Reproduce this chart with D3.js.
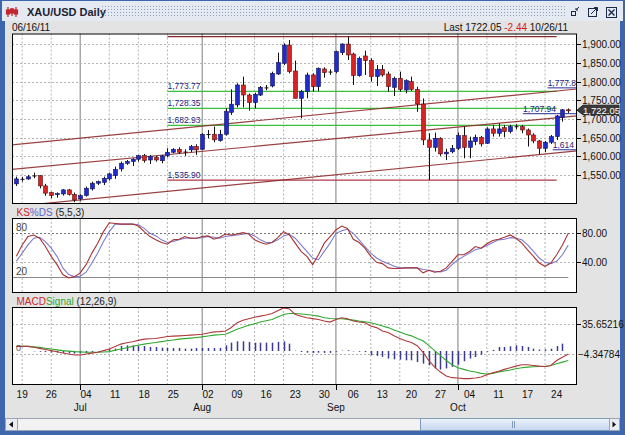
<!DOCTYPE html>
<html>
<head>
<meta charset="utf-8">
<script src="https://cdn.jsdelivr.net/npm/d3@7"></script>
<style>
  body { margin: 0; background: #fff; }
  text { font-family: "Liberation Sans", Arial, sans-serif; }
</style>
</head>
<body>
<svg id="chart" width="625" height="435"></svg>
<script>
// ---- data ----
var opens  = [1526,1539,1539,1548,1548,1520.5,1502.7,1497,1499,1509.8,1498,1485.7,1494.6,1512.5,1527.7,1530,1539.3,1548,1566,1581,
              1585.7,1592,1601.8,1590,1597.4,1588,1601.8,1610.7,1618.7,1612,1617,1626,1618.7,1659,1659,1642,1659,1717.8,1737.5,1791,
              1764,1743.7,1764,1784,1788.3,1820.5,1849,1898,1828.5,1755.3,1773.2,1817.8,1786.5,1833.9,1826.7,1826.7,1877.6,1900.8,1874,1816,
              1868.7,1856.2,1813.3,1833,1820.5,1784.8,1808.9,1777.6,1799.9,1779.4,1740,1643.7,1624,1648.2,1606.2,1612,1621.4,1655.3,1624,1639,
              1650.9,1634.8,1673.2,1661.6,1676.7,1666,1680,1679.4,1670.5,1657,1641,1621.4,1637.5,1652.6,1704.4,1724.49];
var highs  = [1545.5,1545,1550,1556,1548.5,1526,1505,1503,1512,1512,1502.7,1498,1518.7,1532,1534.8,1545.5,1556.2,1572.3,1585.7,1590,
              1594.6,1603.5,1606.2,1603.5,1601,1603.5,1621.4,1621.4,1624,1618.7,1630.3,1632,1661.6,1670.5,1679.4,1670.5,1728.5,1779.4,1795.5,1813.3,
              1768,1770.5,1788.3,1791,1826.7,1877.6,1902.6,1911.5,1856.2,1777.6,1824,1822.3,1838.3,1838.3,1833,1883,1902.6,1920.8,1877.6,1867,
              1883,1862.4,1844.6,1844.6,1826.7,1813.3,1826.7,1806.2,1813.3,1786.5,1755,1661.6,1663.4,1650.9,1620,1630.3,1663.4,1679.4,1652.6,1658,
              1654.4,1677.6,1684,1688.4,1684,1684,1686,1684,1674.5,1661.6,1643.7,1641,1657,1710.7,1726.7,1728];
var lows   = [1520.5,1532,1537,1541,1514,1494,1487.5,1489,1494.6,1494.6,1477,1481,1492,1508,1523,1523,1534.8,1539.3,1559,1577,
              1574,1585.7,1583,1579.4,1585.7,1581.2,1597.4,1608,1606.2,1601,1610.7,1603.5,1617,1648.2,1637.5,1639,1655.3,1710.7,1731.2,1731,
              1722.3,1728.5,1761.5,1777,1784.8,1817.8,1844.6,1822.3,1755.3,1701.7,1755.3,1773.2,1775,1810.6,1818,1822.3,1871.4,1858,1791,1813.3,
              1817.8,1800,1788.3,1813.3,1773.2,1761.5,1773.2,1768.7,1775,1719,1630,1535.9,1612.5,1600.9,1590,1608,1617,1594.6,1594.6,1630,
              1626,1633,1652.6,1652.6,1650.9,1661.6,1672,1661.6,1626,1634.8,1605,1610.7,1633,1643.7,1692.8,1716];
var closes = [1539.3,1539.5,1545,1548.5,1520.5,1501,1494.6,1500,1509.8,1498,1483,1494.6,1514.3,1527.7,1532,1541,1552.7,1565,1581.2,1585.7,
              1592,1601.8,1588.4,1599,1590,1600.9,1610.7,1618.7,1610.7,1612.5,1625.9,1617,1658.9,1659.5,1644,1659,1719.6,1739.5,1791,1764.2,
              1743.7,1766,1784.8,1784.5,1822.3,1850.8,1898.1,1826.7,1755.3,1773.2,1817.8,1786.5,1835.6,1824,1827,1880.3,1900.8,1871.4,1816,1862.4,
              1856.2,1813.3,1833,1817.8,1786.5,1808.9,1779.4,1802.6,1779.4,1740,1643.7,1624,1648.2,1606.2,1611,1621.4,1655.3,1624,1641,1650.9,
              1633,1673.2,1661.6,1673.2,1666,1679.4,1680.5,1670.5,1657,1641,1621.4,1637.5,1652.6,1708,1724.49,1722.05];

var stochK = [48.2,64,75.5,77.7,73.2,61.8,48.2,36.8,23.2,18.6,20,25.5,36.8,52.7,66.4,82.3,94.5,93.6,92.7,92.7,
              92.7,90,82.3,75.5,71,67.3,65,71,71.8,75.5,73.2,73.2,75.5,76.4,71.8,74.5,79,77.7,79,80.9,
              79,71,67.3,65,67.3,74,82.3,77.7,66.4,55,48.2,36.8,50.4,66.4,75.5,84.6,90,86.8,71.8,67.3,
              59.5,48.2,40,38.2,32.3,31.4,31.4,32.3,32.3,32.3,25.5,29.1,26.4,27.7,32.3,41.4,50.4,50.4,55,61.8,
              59.5,65.5,70,71.8,74.5,77.7,73.2,66.4,57.3,48.2,39.1,34.5,39.1,50.4,64,80];
var stochD = [41.4,52.7,64,73.2,74.5,68.6,59.5,48.2,32.3,23.2,20,20.9,26.4,39.1,52.7,68.6,82.3,92.7,92.7,92.7,
              92.7,91.8,86.8,80,76.4,71,67.3,68.6,71,73.2,73.6,73.2,74,75.5,74.5,73.2,75.5,76.8,77.7,78.6,
              80,76.4,71,67.3,67.3,71,76.4,78.6,73.2,64,55,45.9,43.6,55,66.4,80,83.6,85.5,80,71,
              61.8,52.7,45.9,41.4,38.2,34.5,32.3,32.3,32.3,32.3,30,29.1,27.7,26.8,29.1,36.8,43.6,48.2,52.7,57.3,
              59.5,63.2,67.3,71,71.8,74,73.2,71,64,55,45.9,40,38.2,41.4,50.4,64];

var macdLine   = [6.1,6.1,6.1,5,3.5,2,0.5,-1,-2.6,-4,-5.2,-5.2,-3.9,-2.8,-1.7,0.5,2.6,6,9.1,10.8,
                  12.2,14,15.7,16.1,16.5,17.8,19.1,19.6,20,20.4,20.9,21.5,22.2,23.8,25.2,25.6,26.5,31,37.4,40.5,
                  42.6,44.5,46.1,47.5,49.5,53,56.9,55.6,48.2,46,43.9,42.8,41.7,39.5,38.2,41.7,43.9,42.6,39.5,38.2,
                  37.4,33,30.9,26.5,24.3,20,16.5,13.5,11.3,7,-1.7,-12.6,-21.3,-27.8,-33,-35.2,-35.6,-36.5,-36.5,-35.6,
                  -34.3,-31.3,-28.6,-26.9,-24.3,-22.1,-20,-18.2,-18.2,-19.1,-20,-20.4,-19.1,-12.6,-8.2,-3.9];
var signalLine = [6.1,6.1,6.1,5.5,4.8,3.7,2.6,1.5,0.5,-0.2,-0.8,-1.2,-1.7,-1.7,-1.7,-1.3,-0.8,1,2.6,4.4,
                  6.1,7.6,9.1,10.2,11.3,12.4,13.5,14.6,15.7,16.3,17,17.8,18.7,19.8,20.9,21.5,22.2,25.5,28.7,31.3,
                  33.9,36,38.2,40,41.7,45,48.2,49.5,49.5,48.8,48.2,47.2,46.1,43.9,43,42.6,42.6,41.7,40.8,39.5,
                  38.7,37.4,35.2,33,30.9,27.8,25.2,22.2,20,16.5,13.5,7,0.5,-6.1,-12.6,-18.2,-22.1,-24.3,-26.5,-27.8,
                  -29.5,-30.4,-29.5,-27.8,-26.5,-25.2,-23.4,-22.1,-21.3,-20.8,-20.4,-20.4,-19.1,-16.9,-14.7,-12.6];
var macdHist   = [0,0,0,-0.5,-1,-1.5,-2,-2,-2.5,-3,-3.5,-3,-2.5,-1.5,-0.5,1,2.5,3.1,6.6,7.5,
                  7.5,6.6,6.6,5.3,5.3,4.4,4,4,4,3.1,3.1,4,4,4,4,4,7.5,11,12.8,12.8,
                  12,11,11,11,11,12,12.8,9.7,0.5,-1.3,-2.2,-2.5,-2.2,-2.5,-2.5,-1,0.5,1,-0.5,-1,
                  -1.5,-5.6,-6.5,-7.8,-10,-11,-11.4,-12.3,-12.3,-14.5,-16.7,-19,-23,-24.5,-23,-21,-18,-13.5,-10,-8,
                  -5,-1,1.5,5.3,5.3,6.2,7.5,6.6,5.3,3.1,1.8,2.2,3.1,6.6,9.7,0];

var weekLabels = ["19","26","04","11","18","25","02","09","16","23","30","06","13","20","27","04","11","17","24"];
var weekBars   = [1,6,12,17,22,27,33,38,43,48,53,58,63,68,73,78,83,88,93];
var monthLabels = ["Jul","Aug","Sep","Oct"];
var monthBars   = [11,32,55,76];

var priceTicks = [1550,1600,1650,1700,1750,1800,1850,1900];
var stochTicks = [80,40];
var macdTicks  = [35.65216,-4.34784];

var fibLevels = [1773.77,1728.35,1682.93];
var fibHigh = 1920.80, fibLow = 1535.90;
var fibBars = [26,93];

// trend channel: price at bar 0 and at bar 95, and its label
var channelStart = [1631.4,1566,1466];
var channelEnd   = [1777.9,1706,1612];
var channelLabels = ["1,777.8","1,707.94","1,614"];

var lastPrice = 1722.05, lastChange = -2.44;
var firstDate = "06/16/11", lastDate = "10/26/11";

// ---- layout ----
var svg = d3.select("#chart");
var left = 12, right = 577;
var mainTop = 33.5, mainBottom = 204;
var stochTop = 218, stochBottom = 293;
var macdTop = 307, macdBottom = 385;

var x = d3.scaleLinear().domain([-0.75, 96.5]).range([left, right]);
var yPrice = d3.scaleLinear().domain([1472, 1929]).range([mainBottom, mainTop]);
var yStoch = d3.scaleLinear().domain([-2.3, 101.1]).range([stochBottom, stochTop]);
var yMacd = d3.scaleLinear().domain([-44.9, 58.1]).range([macdBottom, macdTop]);

var fmtPrice = d3.format(",.2f");
var bars = d3.range(opens.length);

// ---- window chrome ----
svg.append("rect").attr("width", 625).attr("height", 435).attr("fill", "#3d66ad");
svg.append("rect").attr("x", 2).attr("y", 1).attr("width", 621).attr("height", 20).attr("fill", "#e4e9f2");

var defs = svg.append("defs");
var pat = defs.append("pattern").attr("id", "dots").attr("width", 3).attr("height", 3)
    .attr("patternUnits", "userSpaceOnUse");
pat.append("rect").attr("width", 1).attr("height", 1).attr("fill", "#8fa0bd");
svg.append("rect").attr("x", 100).attr("y", 5).attr("width", 466).attr("height", 12).attr("fill", "url(#dots)");

var grad = defs.append("linearGradient").attr("id", "thumb").attr("x1", 0).attr("y1", 0).attr("x2", 0).attr("y2", 1);
grad.append("stop").attr("offset", "0%").attr("stop-color", "#eef4fc");
grad.append("stop").attr("offset", "100%").attr("stop-color", "#c3d5ee");

// title icon: tiny candles
var icon = svg.append("g").attr("stroke", "#c0282d").attr("stroke-width", 1.2);
[8, 12, 16].forEach(function(ix, k) {
  icon.append("line").attr("x1", ix).attr("x2", ix).attr("y1", 7 + k % 2).attr("y2", 17 - k % 2);
  icon.append("rect").attr("x", ix - 1.5).attr("y", 10 - k % 2).attr("width", 3).attr("height", 4).attr("fill", "#c0282d");
});
svg.append("text").attr("x", 27).attr("y", 15.5).style("font-size", "11px").style("font-weight", "bold")
    .attr("fill", "#1b1f33").text("XAU/USD Daily");

// title buttons
var btn = svg.append("g").attr("fill", "none").attr("stroke", "#1b2a4a").attr("stroke-width", 1);
btn.append("rect").attr("x", 571.5).attr("y", 11.5).attr("width", 4).attr("height", 4);
btn.append("path").attr("d", "M576,10 L579,7 M576,8 L576,10 L578,10");
btn.append("rect").attr("x", 588.5).attr("y", 8.5).attr("width", 8).attr("height", 8);
btn.append("path").attr("d", "M591,14 L597,8 M594,7.5 L597.5,7.5 L597.5,11");
btn.append("rect").attr("x", 606.5).attr("y", 7.5).attr("width", 10).attr("height", 10);
btn.append("path").attr("d", "M608.5,9.5 L614.5,15.5 M614.5,9.5 L608.5,15.5").attr("stroke-width", 1.4);

// body
svg.append("rect").attr("x", 5).attr("y", 21).attr("width", 615).attr("height", 410).attr("fill", "#e3e3e3");

// header texts
svg.append("text").attr("x", 12).attr("y", 31).style("font-size", "10px").attr("fill", "#111").text(firstDate);
var hdr = svg.append("text").attr("x", 568).attr("y", 31).attr("text-anchor", "end")
    .style("font-size", "10px").attr("fill", "#111");
hdr.append("tspan").text("Last " + lastPrice.toFixed(2) + " ");
hdr.append("tspan").attr("fill", "#d41c1c").text(lastChange.toFixed(2));
hdr.append("tspan").text(" " + lastDate);

// ---- panel helper ----
function drawPanel(top, bottom) {
  var g = svg.append("g");
  g.append("rect").attr("x", left).attr("y", top).attr("width", right - left).attr("height", bottom - top)
      .attr("fill", "#fff");
  var grid = d3.range(1, opens.length, 5).filter(function(b) {
    return !monthBars.some(function(m) { return Math.abs(m - b) <= 2; });
  });
  g.selectAll(".vgrid").data(grid).enter().append("line")
      .attr("x1", function(d) { return x(d); }).attr("x2", function(d) { return x(d); })
      .attr("y1", top).attr("y2", bottom)
      .attr("stroke", "#b4b4b4").attr("stroke-dasharray", "2,2");
  g.selectAll(".mgrid").data(monthBars).enter().append("line")
      .attr("x1", function(d) { return x(d); }).attr("x2", function(d) { return x(d); })
      .attr("y1", top).attr("y2", bottom)
      .attr("stroke", "#a8a8a8").attr("stroke-width", 1.5);
  return g;
}

function drawBorder(top, bottom) {
  svg.append("rect").attr("x", left + 0.5).attr("y", top + 0.5).attr("width", right - left - 1)
      .attr("height", bottom - top - 1).attr("fill", "none").attr("stroke", "#000");
}

function rightLabels(ticks, scale, fmt) {
  var g = svg.append("g");
  ticks.forEach(function(t) {
    var yy = Math.round(scale(t)) + 0.5;
    if (t >= 0) {
      g.append("line").attr("x1", right).attr("x2", right + 4).attr("y1", yy).attr("y2", yy).attr("stroke", "#000");
    }
    g.append("text").attr("x", t >= 0 ? right + 5 : right + 1).attr("y", yy + 3.5)
        .style("font-size", "10px").attr("fill", "#111").text(fmt(t));
  });
}

// ---- main price panel ----
var main = drawPanel(mainTop, mainBottom);
main.selectAll(".hgrid").data(priceTicks).enter().append("line")
    .attr("x1", left).attr("x2", right)
    .attr("y1", function(d) { return Math.round(yPrice(d)) + 0.5; })
    .attr("y2", function(d) { return Math.round(yPrice(d)) + 0.5; })
    .attr("stroke", "#b4b4b4").attr("stroke-dasharray", "2,2");

var clip = defs.append("clipPath").attr("id", "mainClip");
clip.append("rect").attr("x", left).attr("y", mainTop).attr("width", right - left).attr("height", mainBottom - mainTop);

var studies = svg.append("g").attr("clip-path", "url(#mainClip)");

// fibonacci levels
studies.append("line").attr("x1", x(fibBars[0])).attr("x2", x(fibBars[1]))
    .attr("y1", yPrice(fibHigh)).attr("y2", yPrice(fibHigh)).attr("stroke", "#8c2a2a").attr("stroke-width", 1.2);
studies.append("line").attr("x1", x(fibBars[0])).attr("x2", x(fibBars[1]))
    .attr("y1", yPrice(fibLow)).attr("y2", yPrice(fibLow)).attr("stroke", "#b0394a").attr("stroke-width", 1.2);
studies.selectAll(".fib").data(fibLevels).enter().append("line")
    .attr("x1", x(fibBars[0])).attr("x2", x(fibBars[1]))
    .attr("y1", function(d) { return yPrice(d); }).attr("y2", function(d) { return yPrice(d); })
    .attr("stroke", "#3cbf3c").attr("stroke-width", 1.2);
studies.selectAll(".fibText").data(fibLevels.concat([fibLow])).enter().append("text")
    .attr("x", x(fibBars[0])).attr("y", function(d) { return yPrice(d) - 2.5; })
    .style("font-size", "8.5px").attr("fill", "#23237e")
    .text(function(d) { return fmtPrice(d); });

// channel lines
channelStart.forEach(function(p0, k) {
  var p1 = channelEnd[k];
  var slope = (p1 - p0) / 95;
  studies.append("line")
      .attr("x1", x(-1)).attr("y1", yPrice(p0 - slope))
      .attr("x2", x(97)).attr("y2", yPrice(p1 + slope * 2))
      .attr("stroke", "#8e2b2b").attr("stroke-opacity", 0.9).attr("stroke-width", 1.2);
});

// candles
var candle = svg.append("g").selectAll(".candle").data(bars).enter().append("g");
candle.append("line")
    .attr("x1", function(i) { return Math.round(x(i)) + 0.5; })
    .attr("x2", function(i) { return Math.round(x(i)) + 0.5; })
    .attr("y1", function(i) { return yPrice(highs[i]); })
    .attr("y2", function(i) { return yPrice(lows[i]); })
    .attr("stroke", "#111");
candle.append("rect")
    .attr("x", function(i) { return Math.round(x(i)) - 1.5; })
    .attr("y", function(i) { return yPrice(Math.max(opens[i], closes[i])); })
    .attr("width", 4)
    .attr("height", function(i) { return Math.max(1, Math.abs(yPrice(opens[i]) - yPrice(closes[i]))); })
    .attr("fill", function(i) {
      if (Math.abs(closes[i] - opens[i]) < 1) return "#111";
      return closes[i] > opens[i] ? "#1d2bd0" : "#d92222";
    })
    .attr("stroke", function(i) { return closes[i] > opens[i] ? "#14145a" : "#5a1414"; })
    .attr("stroke-width", function(i) { return Math.abs(closes[i] - opens[i]) < 1 ? 0 : 0.6; });

// channel labels with underline
var labelEnds = [576, 556, 574];
channelLabels.forEach(function(t, k) {
  var yy = yPrice(channelEnd[k]) - (k === 1 ? 5 : 4);
  var txt = svg.append("text").attr("x", labelEnds[k]).attr("y", yy).attr("text-anchor", "end")
      .style("font-size", "8.5px").attr("fill", "#23237e").text(t);
  var w = txt.node().getComputedTextLength();
  svg.append("line").attr("x1", labelEnds[k] - w).attr("x2", right)
      .attr("y1", yy + 2).attr("y2", yy + 2).attr("stroke", "#2c2c9a").attr("stroke-width", 1);
});

drawBorder(mainTop, mainBottom);
rightLabels(priceTicks, yPrice, fmtPrice);

// last price marker
var ly = yPrice(lastPrice) - 0.5;
svg.append("path")
    .attr("d", "M" + right + "," + ly + " L" + (right + 6) + "," + (ly - 5) + " L619," + (ly - 5) +
               " L619," + (ly + 4.5) + " L" + (right + 6) + "," + (ly + 4.5) + " Z")
    .attr("fill", "#3a3a3a").attr("stroke", "#222");
svg.append("text").attr("x", right + 6).attr("y", ly + 3.3).style("font-size", "9.5px").attr("fill", "#fff")
    .text(fmtPrice(lastPrice));

// ---- stochastic panel ----
var sp = drawPanel(stochTop, stochBottom);
sp.append("line").attr("x1", left).attr("x2", right)
    .attr("y1", Math.round(yStoch(80)) + 0.5).attr("y2", Math.round(yStoch(80)) + 0.5)
    .attr("stroke", "#777").attr("stroke-dasharray", "2,2");
sp.append("line").attr("x1", left).attr("x2", right)
    .attr("y1", Math.round(yStoch(40)) + 0.5).attr("y2", Math.round(yStoch(40)) + 0.5)
    .attr("stroke", "#b4b4b4").attr("stroke-dasharray", "2,2");
sp.append("line").attr("x1", left).attr("x2", x(95))
    .attr("y1", Math.round(yStoch(20)) + 0.5).attr("y2", Math.round(yStoch(20)) + 0.5)
    .attr("stroke", "#8a8a8a");
[80, 20].forEach(function(v) {
  sp.append("text").attr("x", 16).attr("y", yStoch(v) - 2).style("font-size", "10px").attr("fill", "#444").text(v);
});

var stochPath = function(arr) {
  return d3.line().x(function(d, i) { return x(i); }).y(function(d) { return yStoch(d); })(arr);
};
sp.append("path").attr("d", stochPath(stochD)).attr("fill", "none").attr("stroke", "#7b7bd0").attr("stroke-width", 1.1);
sp.append("path").attr("d", stochPath(stochK)).attr("fill", "none").attr("stroke", "#a83232").attr("stroke-width", 1.1);

drawBorder(stochTop, stochBottom);
rightLabels(stochTicks, yStoch, d3.format(".2f"));

var st = svg.append("text").attr("x", 16.5).attr("y", 216).style("font-size", "10px");
st.append("tspan").attr("fill", "#cc2626").text("KS");
st.append("tspan").attr("fill", "#6464c8").text("%DS");
st.append("tspan").attr("fill", "#222").text(" (5,5,3)");

// ---- MACD panel ----
var mp = drawPanel(macdTop, macdBottom);
macdTicks.forEach(function(v) {
  mp.append("line").attr("x1", left).attr("x2", right)
      .attr("y1", Math.round(yMacd(v)) + 0.5).attr("y2", Math.round(yMacd(v)) + 0.5)
      .attr("stroke", "#b4b4b4").attr("stroke-dasharray", "2,2");
});
mp.selectAll(".hist").data(bars).enter().append("line")
    .attr("x1", function(i) { return Math.round(x(i)) + 0.5; })
    .attr("x2", function(i) { return Math.round(x(i)) + 0.5; })
    .attr("y1", yMacd(0))
    .attr("y2", function(i) { return yMacd(macdHist[i]); })
    .attr("stroke", "#3b3b8f").attr("stroke-width", 1.5);

var macdPath = function(arr) {
  return d3.line().x(function(d, i) { return x(i); }).y(function(d) { return yMacd(d); })(arr);
};
mp.append("path").attr("d", macdPath(signalLine)).attr("fill", "none").attr("stroke", "#30a830").attr("stroke-width", 1.1);
mp.append("path").attr("d", macdPath(macdLine)).attr("fill", "none").attr("stroke", "#b03a3a").attr("stroke-width", 1.1);
mp.append("text").attr("x", 16).attr("y", yMacd(0)).style("font-size", "9px").attr("fill", "#555").text("0");

drawBorder(macdTop, macdBottom);
rightLabels(macdTicks, yMacd, d3.format(".5f"));

var mt = svg.append("text").attr("x", 16.5).attr("y", 305).style("font-size", "10px");
mt.append("tspan").attr("fill", "#cc2626").text("MACD");
mt.append("tspan").attr("fill", "#2ea82e").text("Signal");
mt.append("tspan").attr("fill", "#222").text(" (12,26,9)");

// ---- x axis ----
var xa = svg.append("g").style("font-size", "10px").attr("fill", "#111");
xa.selectAll(".wk").data(weekLabels).enter().append("text")
    .attr("x", function(d, k) { return x(weekBars[k]); }).attr("y", 398).attr("text-anchor", "middle")
    .text(function(d) { return d; });
xa.selectAll(".mo").data(monthLabels).enter().append("text")
    .attr("x", function(d, k) { return x(monthBars[k]); }).attr("y", 411).attr("text-anchor", "middle")
    .text(function(d) { return d; });
xa.selectAll(".mtick").data(monthBars).enter().append("line")
    .attr("x1", function(d) { return Math.round(x(d)) + 0.5; }).attr("x2", function(d) { return Math.round(x(d)) + 0.5; })
    .attr("y1", macdBottom).attr("y2", macdBottom + 5).attr("stroke", "#000");

// ---- scrollbar ----
var sb = svg.append("g");
sb.append("rect").attr("x", 5.5).attr("y", 418.5).attr("width", 614).attr("height", 12).attr("fill", "#f2f2f2").attr("stroke", "#9aa4b4");
sb.append("rect").attr("x", 5.5).attr("y", 418.5).attr("width", 12).attr("height", 12).attr("fill", "#e9ecf2").attr("stroke", "#9aa4b4");
sb.append("path").attr("d", "M9,424.5 L13,421.5 L13,427.5 Z").attr("fill", "#111");
sb.append("rect").attr("x", 420.5).attr("y", 418.5).attr("width", 189).attr("height", 12).attr("fill", "url(#thumb)").attr("stroke", "#7f9db9");
sb.append("path").attr("d", "M512.5,421 L512.5,428 M514.5,421 L514.5,428").attr("stroke", "#7f9db9");
sb.append("rect").attr("x", 609.5).attr("y", 418.5).attr("width", 10).attr("height", 12).attr("fill", "#e9ecf2").attr("stroke", "#9aa4b4");
sb.append("path").attr("d", "M616,424.5 L612.5,421.5 L612.5,427.5 Z").attr("fill", "#111");
</script>
</body>
</html>
